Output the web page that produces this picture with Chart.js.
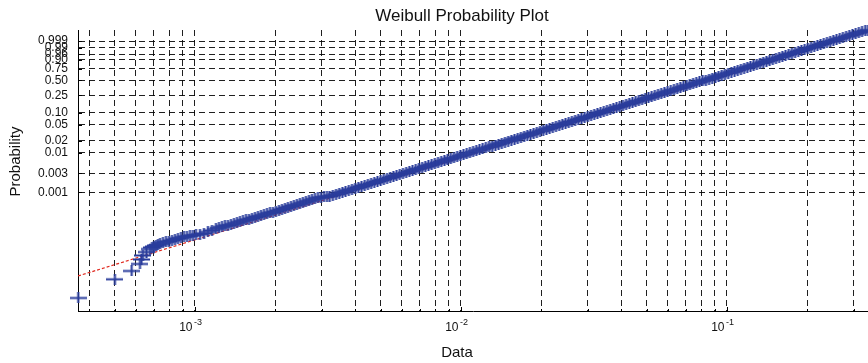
<!DOCTYPE html>
<html>
<head>
<meta charset="utf-8">
<script src="https://cdn.jsdelivr.net/npm/chart.js@4.4.0/dist/chart.umd.min.js"></script>
<style>
  html, body { margin: 0; padding: 0; background: #ffffff; }
  #wrap { width: 868px; height: 363px; }
</style>
</head>
<body>
<div id="wrap"><canvas id="plot" width="868" height="363"></canvas></div>
<script>
// Sorted sample values (Data axis)
const sampleValues = [
  3.640e-4, 5.00e-4, 5.782e-4, 6.213e-4, 6.294e-4, 6.377e-4, 6.573e-4,
  6.775e-4, 6.893e-4, 7.014e-4, 7.136e-4, 7.261e-4, 7.388e-4, 7.582e-4, 7.781e-4, 7.985e-4, 8.195e-4,
  8.410e-4, 8.631e-4, 8.858e-4, 9.091e-4, 9.331e-4, 9.576e-4, 9.828e-4,
  1.0087e-3, 1.0442e-3, 1.0810e-3, 1.1190e-3, 1.1586e-3, 1.1994e-3, 1.2310e-3, 1.2634e-3, 1.2967e-3, 1.3308e-3,
  1.3658e-3, 1.4014e-3, 1.4382e-3, 1.4761e-3, 1.5149e-3, 1.5547e-3, 1.5957e-3, 1.6377e-3, 1.6807e-3, 1.7249e-3,
  1.7702e-3, 1.8167e-3, 1.8646e-3, 1.9135e-3, 1.9638e-3, 2.0154e-3, 2.0685e-3, 2.1229e-3, 2.1788e-3, 2.2360e-3,
  2.2949e-3, 2.3552e-3, 2.4171e-3, 2.4806e-3, 2.5458e-3, 2.6127e-3, 2.6827e-3, 2.7532e-3, 2.8255e-3, 2.8998e-3,
  2.9760e-3, 3.0542e-3, 3.1345e-3,
  3.208e-3, 3.298e-3, 3.390e-3, 3.485e-3, 3.582e-3, 3.682e-3, 3.786e-3, 3.892e-3, 4.000e-3, 4.112e-3,
  4.227e-3, 4.346e-3, 4.467e-3, 4.592e-3, 4.721e-3, 4.853e-3, 4.989e-3, 5.128e-3, 5.272e-3, 5.419e-3,
  5.571e-3, 5.727e-3, 5.887e-3, 6.052e-3, 6.221e-3, 6.395e-3, 6.574e-3, 6.758e-3, 6.947e-3, 7.141e-3,
  7.341e-3, 7.547e-3, 7.758e-3, 7.975e-3, 8.198e-3, 8.427e-3, 8.663e-3, 8.905e-3, 9.155e-3, 9.411e-3,
  9.674e-3, 9.945e-3, 1.0223e-2, 1.0509e-2, 1.0804e-2, 1.1106e-2, 1.1416e-2, 1.1735e-2, 1.2064e-2, 1.2401e-2,
  1.2748e-2, 1.3105e-2, 1.3472e-2, 1.3848e-2, 1.4236e-2, 1.4634e-2, 1.5044e-2, 1.5465e-2, 1.5898e-2, 1.6343e-2,
  1.6800e-2, 1.7270e-2, 1.7752e-2, 1.8250e-2, 1.8760e-2, 1.9285e-2, 1.9824e-2, 2.0380e-2, 2.0950e-2, 2.1536e-2,
  2.2138e-2, 2.2758e-2, 2.3394e-2, 2.4050e-2, 2.4722e-2, 2.5414e-2, 2.6125e-2, 2.6856e-2, 2.7607e-2, 2.8380e-2,
  2.9174e-2, 2.9991e-2, 3.0830e-2, 3.1692e-2, 3.2579e-2, 3.3489e-2, 3.4428e-2, 3.5390e-2, 3.6381e-2, 3.7398e-2,
  3.8445e-2, 3.9520e-2, 4.0627e-2, 4.1763e-2, 4.2932e-2, 4.4133e-2, 4.5368e-2, 4.6636e-2, 4.7942e-2, 4.9283e-2,
  5.0663e-2, 5.2080e-2, 5.3537e-2, 5.5035e-2, 5.6575e-2, 5.8158e-2, 5.9786e-2, 6.1458e-2, 6.3179e-2, 6.4946e-2,
  6.6761e-2, 6.8631e-2, 7.0549e-2, 7.2526e-2, 7.4553e-2, 7.6640e-2, 7.8783e-2, 8.0990e-2, 8.3254e-2, 8.5585e-2,
  8.7979e-2, 9.0441e-2, 9.2971e-2, 9.5573e-2, 9.8246e-2, 0.10100, 0.10382, 0.10673, 0.10972, 0.11278,
  0.11594, 0.11918, 0.12252, 0.12594, 0.12947, 0.13309, 0.13681, 0.14064, 0.14458, 0.14862,
  0.15278, 0.15705, 0.16145, 0.16597, 0.17061, 0.17538, 0.18030, 0.18534, 0.19052, 0.19585,
  0.20134, 0.20697, 0.21276, 0.21871, 0.22483, 0.23112, 0.23759, 0.24424, 0.25107, 0.25810,
  0.26531, 0.27274, 0.28036, 0.28822, 0.29628, 0.30457, 0.31309, 0.32186, 0.33086, 0.3389
];

// Plotting-position probability of each sample value
const sampleProbs = [
  2.076e-6, 6.193e-6, 1.006e-5, 1.514e-5, 1.970e-5, 2.488e-5, 3.052e-5,
  3.637e-5, 3.972e-5, 4.211e-5, 4.465e-5, 4.598e-5, 4.874e-5, 5.167e-5, 5.478e-5, 5.640e-5, 5.980e-5,
  6.340e-5, 6.722e-5, 6.921e-5, 7.337e-5, 7.555e-5, 7.779e-5, 8.010e-5,
  8.247e-5, 8.592e-5, 9.001e-5, 9.826e-5, 1.0726e-4, 1.1710e-4, 1.2413e-4, 1.3160e-4, 1.3951e-4, 1.4364e-4,
  1.4791e-4, 1.5680e-4, 1.6623e-4, 1.7624e-4, 1.8684e-4, 1.9814e-4, 2.0402e-4, 2.1629e-4, 2.2930e-4, 2.4310e-4,
  2.5030e-4, 2.6536e-4, 2.8131e-4, 2.9823e-4, 3.0707e-4, 3.2555e-4, 3.4514e-4, 3.6590e-4, 3.8790e-4, 4.1123e-4,
  4.3596e-4, 4.6219e-4, 4.7589e-4, 5.0452e-4, 5.3486e-4, 5.6703e-4, 6.0138e-4, 6.3756e-4, 6.7591e-4, 7.1657e-4,
  7.3782e-4, 7.5993e-4, 7.8246e-4,
  7.9401e-4, 8.4105e-4, 8.9085e-4, 9.4361e-4, 9.995e-4, 1.0587e-3, 1.1214e-3, 1.1878e-3, 1.2581e-3, 1.3326e-3,
  1.4115e-3, 1.4951e-3, 1.5836e-3, 1.6774e-3, 1.7767e-3, 1.8818e-3, 1.9933e-3, 2.1113e-3, 2.2362e-3, 2.3686e-3,
  2.5087e-3, 2.6572e-3, 2.8144e-3, 2.9809e-3, 3.1573e-3, 3.3441e-3, 3.5418e-3, 3.7513e-3, 3.9732e-3, 4.2081e-3,
  4.4568e-3, 4.7203e-3, 4.9993e-3, 5.2947e-3, 5.6076e-3, 5.9389e-3, 6.2897e-3, 6.6611e-3, 7.0545e-3, 7.4708e-3,
  7.9118e-3, 8.3786e-3, 8.8729e-3, 9.3962e-3, 0.009950, 0.010537, 0.011157, 0.011815, 0.012510, 0.013247,
  0.014026, 0.014851, 0.015724, 0.016648, 0.017626, 0.018660, 0.019755, 0.020913, 0.022138, 0.023435,
  0.024806, 0.026256, 0.027791, 0.029413, 0.031128, 0.032942, 0.034859, 0.036887, 0.039029, 0.041293,
  0.043685, 0.046213, 0.048884, 0.051704, 0.054682, 0.057827, 0.061146, 0.064650, 0.068347, 0.072247,
  0.076360, 0.080697, 0.085269, 0.090087, 0.095163, 0.100512, 0.106135, 0.112059, 0.118289, 0.124842,
  0.131728, 0.138965, 0.146568, 0.154545, 0.162915, 0.171684, 0.180884, 0.190509, 0.200580, 0.211119,
  0.222125, 0.233613, 0.245604, 0.258100, 0.271109, 0.284641, 0.298693, 0.313287, 0.328412, 0.344069,
  0.360251, 0.376963, 0.394190, 0.411912, 0.430126, 0.448801, 0.467919, 0.487441, 0.507347, 0.527581,
  0.548116, 0.568893, 0.589857, 0.610954, 0.632121, 0.653302, 0.674372, 0.695322, 0.716034, 0.736447,
  0.756467, 0.776021, 0.795030, 0.813402, 0.831075, 0.847958, 0.864027, 0.879186, 0.893403, 0.906651,
  0.918886, 0.930101, 0.940299, 0.949481, 0.957672, 0.964905, 0.971221, 0.976679, 0.981335, 0.985257,
  0.988516, 0.991187, 0.9933418, 0.9950522, 0.9963877, 0.9974113, 0.9981812, 0.9987485, 0.99915781, 0.99944631,
  0.99964497, 0.99977826, 0.99986531, 0.99992056, 0.9999546, 0.99997491, 0.9999866, 0.99999311, 0.99999659, 0.99999793
];

// Reference (fitted) Weibull line, end points
const fitValues = [3.633e-4, 0.3389];
const fitProbs = [7.509e-6, 0.99999231];

// Axis extents
const dataRange = [3.633e-4, 0.3389];
const probRange = [9.71e-7, 0.99999807];

// Probability tick labels
const probTickLabels = ['0.001', '0.003', '0.01', '0.02', '0.05', '0.10', '0.25', '0.50', '0.75', '0.90', '0.96', '0.99', '0.999'];

// Log-axis grid values and decade labels
const dataGridValues = [
  4e-4, 5e-4, 6e-4, 7e-4, 8e-4, 9e-4,
  1e-3, 2e-3, 3e-3, 4e-3, 5e-3, 6e-3, 7e-3, 8e-3, 9e-3,
  1e-2, 2e-2, 3e-2, 4e-2, 5e-2, 6e-2, 7e-2, 8e-2, 9e-2,
  1e-1, 2e-1, 3e-1
];
const decadeValues = [1e-3, 1e-2, 1e-1];
const decadeExponents = ['-3', '-2', '-1'];

const chartTitle = 'Weibull Probability Plot';
const xTitle = 'Data';
const yTitle = 'Probability';

// Weibull probability paper: y = log10(-ln(1 - p))
const weib = p => Math.log10(-Math.log1p(-p));

const FONT = '"Liberation Sans", Arial, Helvetica, sans-serif';
Chart.defaults.font.family = FONT;

// '+' marker drawn into a small canvas used as the point style
function plusMarker(w, h, lw, color) {
  const c = document.createElement('canvas');
  c.width = w; c.height = h;
  const g = c.getContext('2d');
  g.strokeStyle = color;
  g.lineWidth = lw;
  g.beginPath();
  g.moveTo(0, h / 2); g.lineTo(w, h / 2);
  g.moveTo(w / 2, 0); g.lineTo(w / 2, h);
  g.stroke();
  return c;
}
const marker = plusMarker(17, 11, 2.1, '#2a3d9c');

const samplePoints = sampleValues.map((v, i) => ({ x: v, y: weib(sampleProbs[i]) }));
const fitPoints = fitValues.map((v, i) => ({ x: v, y: weib(fitProbs[i]) }));

const gridColor = 'rgba(0,0,0,0.88)';

const labelsPlugin = {
  id: 'plotLabels',
  afterDraw(chart) {
    const { ctx, chartArea, scales } = chart;
    const xs = scales.x, ys = scales.y;
    ctx.save();
    // inward tick marks
    ctx.strokeStyle = '#000';
    ctx.lineWidth = 1;
    ctx.beginPath();
    probTickLabels.forEach(l => {
      const py = Math.round(ys.getPixelForValue(weib(parseFloat(l)))) + 0.5;
      ctx.moveTo(chartArea.left, py); ctx.lineTo(chartArea.left + 4, py);
    });
    dataGridValues.forEach(v => {
      const px = Math.round(xs.getPixelForValue(v)) + 0.5;
      const len = decadeValues.includes(v) ? 4 : 2;
      ctx.moveTo(px, chartArea.bottom); ctx.lineTo(px, chartArea.bottom - len);
    });
    ctx.stroke();

    ctx.fillStyle = '#111';
    // title
    ctx.font = '17px ' + FONT;
    ctx.textAlign = 'center';
    ctx.textBaseline = 'alphabetic';
    ctx.fillText(chartTitle, 462, 20.5);
    // x axis title
    ctx.font = '15px ' + FONT;
    ctx.fillText(xTitle, 457, 356.5);
    // y axis title
    ctx.save();
    ctx.translate(20, 161.5);
    ctx.rotate(-Math.PI / 2);
    ctx.fillText(yTitle, 0, 0);
    ctx.restore();
    // decade labels with superscript exponents
    decadeValues.forEach((v, i) => {
      const gx = xs.getPixelForValue(v);
      ctx.font = '12px ' + FONT;
      ctx.textAlign = 'right';
      ctx.fillText('10', gx - 2.5, 330.5);
      ctx.font = '9px ' + FONT;
      ctx.textAlign = 'left';
      ctx.fillText(decadeExponents[i], gx - 1, 325);
    });
    ctx.restore();
  }
};

new Chart(document.getElementById('plot'), {
  type: 'scatter',
  data: {
    datasets: [
      {
        type: 'scatter',
        data: samplePoints,
        pointStyle: marker,
        pointRadius: 8,
        pointHoverRadius: 8,
        borderWidth: 0,
        clip: false
      },
      {
        type: 'line',
        data: fitPoints,
        borderColor: '#e0281e',
        borderWidth: 1.2,
        borderDash: [3, 2],
        pointRadius: 0,
        fill: false,
        tension: 0
      }
    ]
  },
  options: {
    responsive: false,
    animation: false,
    devicePixelRatio: 1,
    layout: { autoPadding: false, padding: { top: 30, right: 0, bottom: 0, left: 0 } },
    plugins: {
      legend: { display: false },
      tooltip: { enabled: false },
      title: { display: false }
    },
    scales: {
      x: {
        type: 'logarithmic',
        position: 'bottom',
        bounds: 'data',
        min: dataRange[0],
        max: dataRange[1],
        afterBuildTicks: s => { s.ticks = dataGridValues.map(v => ({ value: v })); },
        afterFit: s => { s.height = 52; },
        ticks: { display: false },
        grid: { color: gridColor, lineWidth: 1, drawTicks: false },
        border: { display: true, color: '#000', width: 1, dash: [6, 4] }
      },
      y: {
        type: 'linear',
        position: 'left',
        bounds: 'data',
        min: weib(probRange[0]),
        max: weib(probRange[1]),
        afterBuildTicks: s => { s.ticks = probTickLabels.map(l => ({ value: weib(parseFloat(l)) })); },
        afterFit: s => { s.width = 78; },
        ticks: {
          autoSkip: false,
          padding: 10,
          color: '#111',
          font: { size: 12 },
          callback: (v, i) => probTickLabels[i]
        },
        grid: { color: gridColor, lineWidth: 1, drawTicks: false },
        border: { display: true, color: '#000', width: 1, dash: [6, 4] }
      }
    }
  },
  plugins: [labelsPlugin]
});
</script>
</body>
</html>
